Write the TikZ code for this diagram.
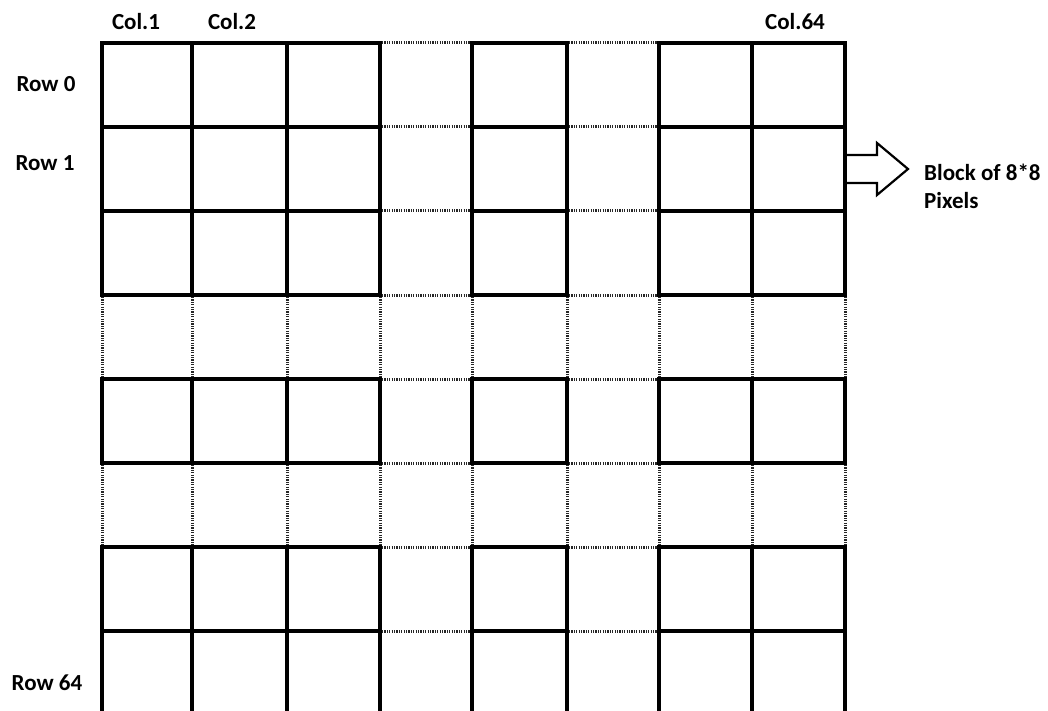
\documentclass[tikz,border=0pt]{standalone}
\usepackage{fontspec}
\setmainfont{Carlito}
\usetikzlibrary{positioning}

\tikzset{
    solidline/.style={line width=4.5pt, line cap=rect},
    gapline/.style={line width=3pt, dash pattern=on 1.2pt off 1.2pt, black!85},
    lbl/.style={font=\fontsize{23}{28}\selectfont\bfseries, inner sep=0pt}
}

\begin{document}
\begin{tikzpicture}[x=1pt, y=-1pt]
        \useasboundingbox (0,0) rectangle (1048,711);
        \clip (0,0) rectangle (1048,711);
        % row lines: solid over the column groups, dotted across the gaps
        \foreach \y in {43,127,211,295,379,463,547,631} {
            \draw[solidline] (102,\y) -- (380,\y);
            \draw[solidline] (472,\y) -- (567,\y);
            \draw[solidline] (659,\y) -- (845,\y);
            \draw[gapline] (382,\y) -- (470,\y);
            \draw[gapline] (569,\y) -- (657,\y);
        }
        % column lines
        \foreach \x in {102,192,287,380,472,567,659,752,845} {
            \draw[solidline] (\x,43) -- (\x,295);
            \draw[solidline] (\x,379) -- (\x,463);
            \draw[solidline] (\x,547) -- (\x,715);
            \draw[gapline] (\x,297) -- (\x,377);
            \draw[gapline] (\x,465) -- (\x,545);
        }
        % block arrow
        \draw[line width=2.2pt, fill=white] (847,155) -- (877,155) -- (877,143) -- (908,169)
            -- (877,195) -- (877,183) -- (847,183);
        \node[lbl] (col1) at (136,22) {Col.1};
        \node[lbl] (col2) at (232,22) {Col.2};
        \node[lbl] (col64) at (795,22) {Col.64};
        \node[lbl] (row0) at (46,84) {Row 0};
        \node[lbl] (row1) at (45,163) {Row 1};
        \node[lbl] (row64) at (47,683) {Row 64};
        \node[lbl, anchor=west, align=left] (block) at (924,186) {Block of 8*8\\Pixels};
    \end{tikzpicture}
\end{document}
